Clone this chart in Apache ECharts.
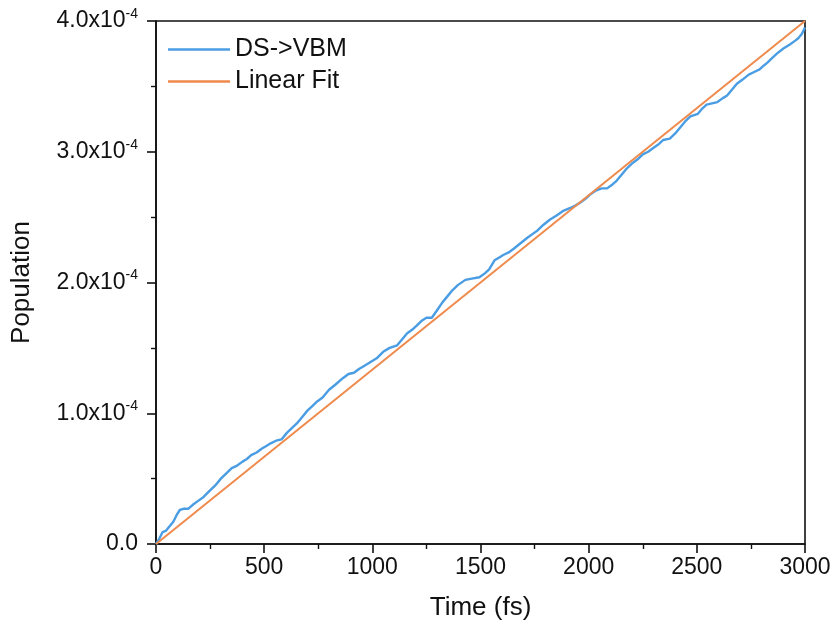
<!DOCTYPE html>
<html>
<head>
<meta charset="utf-8">
<script src="https://cdn.jsdelivr.net/npm/echarts@6/dist/echarts.min.js"></script>
<style>html,body{margin:0;padding:0;background:#fff}#c{width:835px;height:628px}</style>
</head>
<body>
<div id="c"></div>
<script>
// Time (fs)
const timeFs = [0,15,30,45,60,80,95,110,130,150,170,195,220,250,275,300,325,350,375,400,420,440,465,490,510,530,555,580,605,630,650,675,700,720,745,770,800,830,865,890,915,940,960,990,1020,1050,1080,1115,1140,1160,1185,1205,1230,1250,1275,1300,1325,1345,1370,1395,1430,1460,1495,1520,1540,1565,1585,1605,1630,1655,1685,1715,1740,1765,1790,1820,1850,1885,1915,1940,1960,1985,2005,2030,2060,2085,2110,2130,2155,2175,2200,2225,2250,2275,2300,2325,2345,2375,2400,2425,2445,2470,2505,2525,2545,2570,2595,2620,2640,2665,2685,2710,2740,2765,2790,2810,2825,2850,2870,2900,2930,2955,2970,2985,3000];
// DS->VBM population
const population = [0,0.04e-4,0.09e-4,0.10e-4,0.13e-4,0.17e-4,0.22e-4,0.26e-4,0.27e-4,0.27e-4,0.30e-4,0.33e-4,0.36e-4,0.41e-4,0.45e-4,0.50e-4,0.54e-4,0.58e-4,0.60e-4,0.63e-4,0.65e-4,0.68e-4,0.70e-4,0.73e-4,0.75e-4,0.77e-4,0.79e-4,0.80e-4,0.85e-4,0.89e-4,0.92e-4,0.97e-4,1.02e-4,1.05e-4,1.09e-4,1.12e-4,1.18e-4,1.22e-4,1.27e-4,1.30e-4,1.31e-4,1.34e-4,1.36e-4,1.39e-4,1.42e-4,1.47e-4,1.50e-4,1.52e-4,1.57e-4,1.61e-4,1.64e-4,1.67e-4,1.71e-4,1.73e-4,1.73e-4,1.79e-4,1.85e-4,1.89e-4,1.94e-4,1.98e-4,2.02e-4,2.03e-4,2.04e-4,2.07e-4,2.10e-4,2.17e-4,2.19e-4,2.21e-4,2.23e-4,2.26e-4,2.30e-4,2.34e-4,2.37e-4,2.40e-4,2.44e-4,2.48e-4,2.51e-4,2.55e-4,2.57e-4,2.59e-4,2.61e-4,2.64e-4,2.67e-4,2.70e-4,2.72e-4,2.72e-4,2.75e-4,2.78e-4,2.83e-4,2.87e-4,2.91e-4,2.94e-4,2.98e-4,3.00e-4,3.03e-4,3.06e-4,3.09e-4,3.10e-4,3.14e-4,3.19e-4,3.23e-4,3.27e-4,3.29e-4,3.33e-4,3.36e-4,3.37e-4,3.38e-4,3.41e-4,3.43e-4,3.48e-4,3.52e-4,3.55e-4,3.59e-4,3.61e-4,3.63e-4,3.66e-4,3.68e-4,3.72e-4,3.75e-4,3.79e-4,3.82e-4,3.85e-4,3.87e-4,3.90e-4,3.95e-4];
// Linear fit endpoints
const fitTime = [0, 3000];
const fitValue = [0, 4.0e-4];

const xTicks = [0, 500, 1000, 1500, 2000, 2500, 3000];
const yTicks = [0, 1e-4, 2e-4, 3e-4, 4e-4];

const chart = echarts.init(document.getElementById('c'), null, {renderer: 'canvas'});
const font = 'Arial, "Liberation Sans", sans-serif';
chart.setOption({
  animation: false,
  backgroundColor: '#fff',
  grid: {left: 156, right: 30, top: 21, bottom: 84, show: true, borderColor: '#111', borderWidth: 1.6, backgroundColor: 'transparent'},
  legend: {
    orient: 'vertical', left: 163, top: 32, itemGap: 7,
    icon: 'rect', itemWidth: 62, itemHeight: 2.5,
    textStyle: {fontSize: 25, color: '#111', fontFamily: font},
    data: ['DS->VBM', 'Linear Fit']
  },
  xAxis: {
    type: 'value', min: xTicks[0], max: xTicks[xTicks.length-1], interval: 500,
    name: 'Time (fs)', nameLocation: 'middle', nameGap: 51,
    nameTextStyle: {fontSize: 26, color: '#111', fontFamily: font},
    axisLine: {show: true, onZero: false, lineStyle: {color: '#111', width: 1.6}},
    axisTick: {show: true, inside: false, length: 9, lineStyle: {color: '#111', width: 1.6}},
    minorTick: {show: true, splitNumber: 2, length: 5, lineStyle: {color: '#111', width: 1.4}},
    axisLabel: {fontSize: 23, color: '#111', fontFamily: font, margin: 12,
      formatter: function (v) { return String(v); }},
    splitLine: {show: false}
  },
  yAxis: {
    type: 'value', min: yTicks[0], max: yTicks[yTicks.length-1], interval: 1e-4,
    name: 'Population', nameLocation: 'middle', nameGap: 121, nameRotate: 90,
    nameTextStyle: {fontSize: 26, color: '#111', fontFamily: font},
    axisLine: {show: true, onZero: false, lineStyle: {color: '#111', width: 1.6}},
    axisTick: {show: true, inside: false, length: 9, lineStyle: {color: '#111', width: 1.6}},
    minorTick: {show: true, splitNumber: 2, length: 5, lineStyle: {color: '#111', width: 1.4}},
    axisLabel: {
      fontSize: 23, color: '#111', fontFamily: font, margin: 18,
      formatter: function (v) {
        const m = v / 1e-4;
        if (Math.abs(m) < 1e-9) return '{a|0.0}';
        return '{a|' + m.toFixed(1) + 'x10}{b|-4}';
      },
      rich: {
        a: {fontSize: 23, color: '#111', fontFamily: font},
        b: {fontSize: 14, color: '#111', fontFamily: font, padding: [0, 0, 14, 0]}
      }
    },
    splitLine: {show: false}
  },
  series: [
    {
      name: 'DS->VBM', type: 'line', showSymbol: false, symbol: 'none',
      data: timeFs.map((t, i) => [t, population[i]]),
      lineStyle: {color: '#4A9DE3', width: 2.4},
      itemStyle: {color: '#4A9DE3'},
      z: 2
    },
    {
      name: 'Linear Fit', type: 'line', showSymbol: false, symbol: 'none',
      data: fitTime.map((t, i) => [t, fitValue[i]]),
      lineStyle: {color: '#EF8A4C', width: 2},
      itemStyle: {color: '#EF8A4C'},
      z: 3
    }
  ]
});
</script>
</body>
</html>
